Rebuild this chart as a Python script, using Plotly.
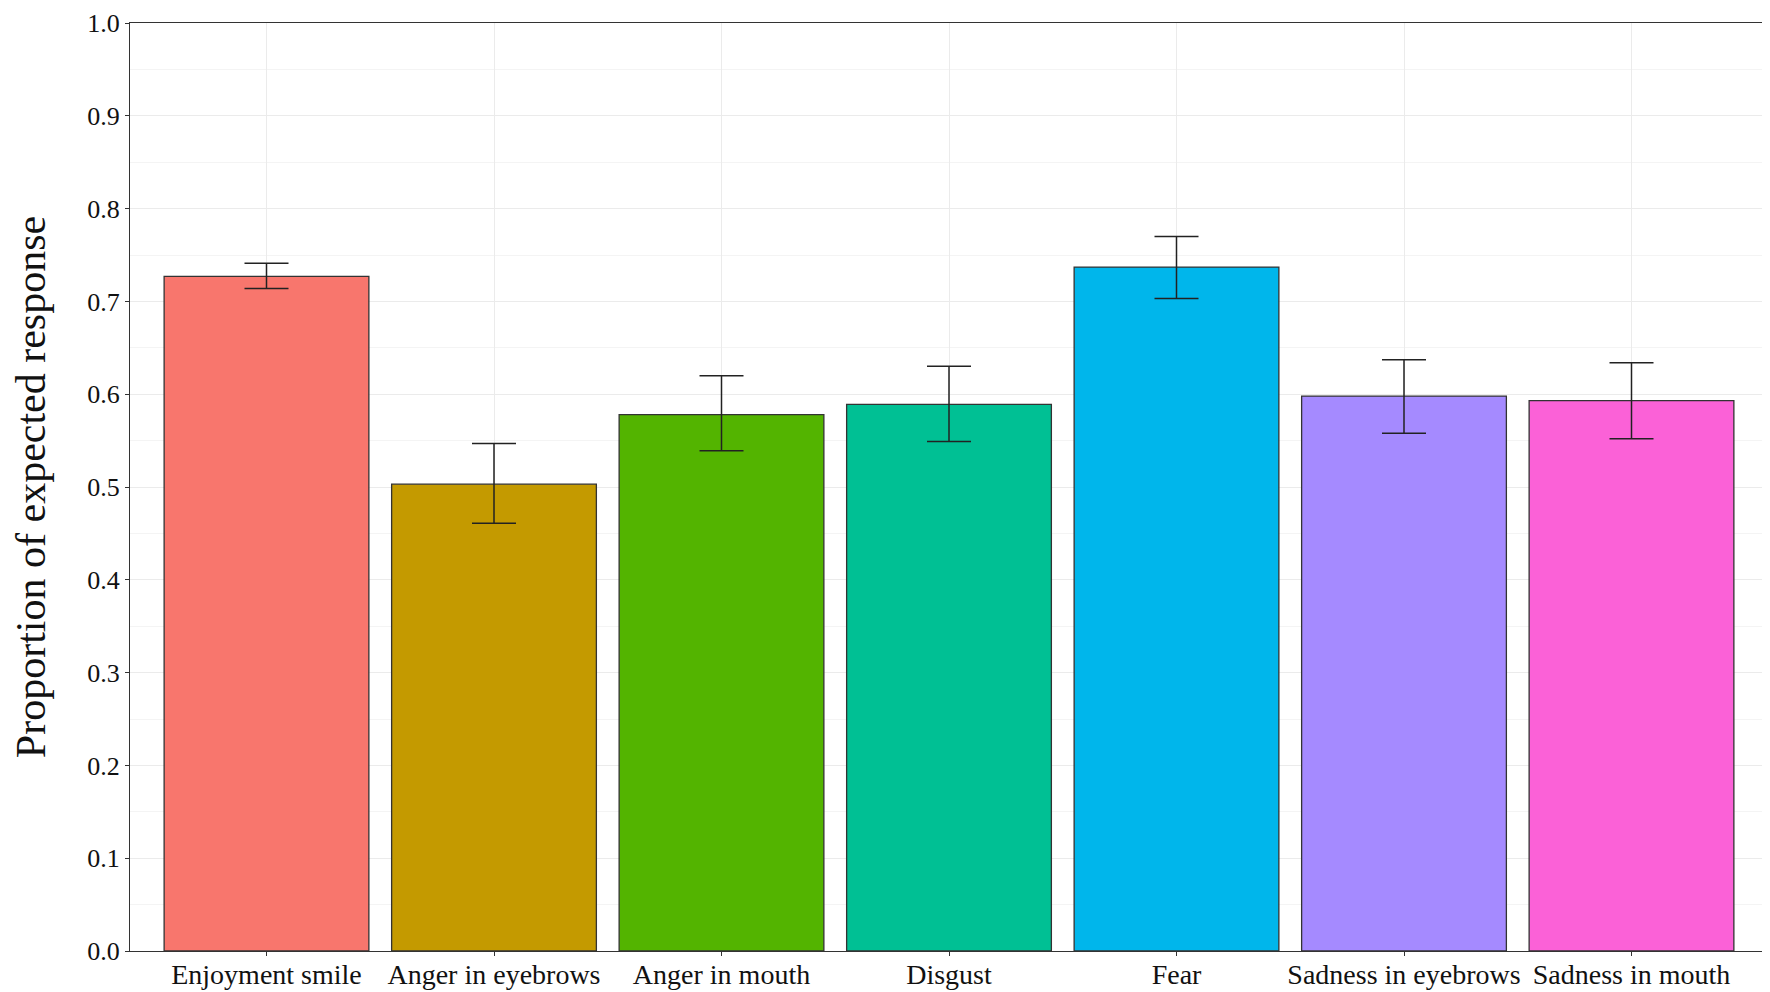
import plotly.graph_objects as go

categories = ["Enjoyment smile", "Anger in eyebrows", "Anger in mouth", "Disgust",
              "Fear", "Sadness in eyebrows", "Sadness in mouth"]
values = [0.727, 0.503, 0.578, 0.589, 0.737, 0.598, 0.593]
err_upper = [0.741, 0.547, 0.620, 0.630, 0.770, 0.637, 0.634]
err_lower = [0.714, 0.461, 0.539, 0.549, 0.703, 0.558, 0.552]
colors = ["#F8766D", "#C49A00", "#53B400", "#00C094", "#00B6EB", "#A58AFF", "#FB61D7"]
y_ticks = [0.0, 0.1, 0.2, 0.3, 0.4, 0.5, 0.6, 0.7, 0.8, 0.9, 1.0]

plus = [u - v for u, v in zip(err_upper, values)]
minus = [v - l for v, l in zip(values, err_lower)]

fig = go.Figure()
fig.add_trace(go.Bar(
    x=list(range(len(categories))), y=values, width=0.9,
    marker=dict(color=colors, line=dict(color="#333333", width=1.3)),
    error_y=dict(type="data", symmetric=False, array=plus, arrayminus=minus,
                 color="#222222", thickness=1.5, width=22),
    showlegend=False,
))

fig.update_layout(
    width=1762, height=984,
    margin=dict(l=122, r=2, t=15, b=41),
    paper_bgcolor="white", plot_bgcolor="white",
    font=dict(family="Liberation Serif", color="#111111"),
    xaxis=dict(
        range=[-0.6, 6.6], tickmode="array", tickvals=list(range(len(categories))),
        ticktext=categories, tickfont=dict(size=28, color="#111111"),
        showgrid=True, gridcolor="#EBEBEB", gridwidth=1.2,
        showline=True, linecolor="#333333", linewidth=1.3, mirror=True,
        ticks="outside", ticklen=4, tickcolor="#333333", zeroline=False,
        automargin=False, ticklabeloverflow="allow", ticklabelstandoff=-6,
    ),
    yaxis=dict(
        range=[0, 1.0], tickmode="array", tickvals=y_ticks,
        ticktext=[f"{v:.1f}" for v in y_ticks], tickfont=dict(size=26, color="#111111"),
        showgrid=True, gridcolor="#EBEBEB", gridwidth=1.2,
        minor=dict(tickmode="array", tickvals=[0.05 + 0.1 * i for i in range(10)],
                   showgrid=True, gridcolor="#F4F4F4", gridwidth=1),
        showline=True, linecolor="#333333", linewidth=1.3, mirror=True,
        ticks="outside", ticklen=4, tickcolor="#333333", zeroline=False,
        automargin=False, ticklabeloverflow="allow",
        title=dict(text="Proportion of expected response", font=dict(size=42, color="#111111"),
                   standoff=50),
    ),
)

fig.write_html("out.html")
